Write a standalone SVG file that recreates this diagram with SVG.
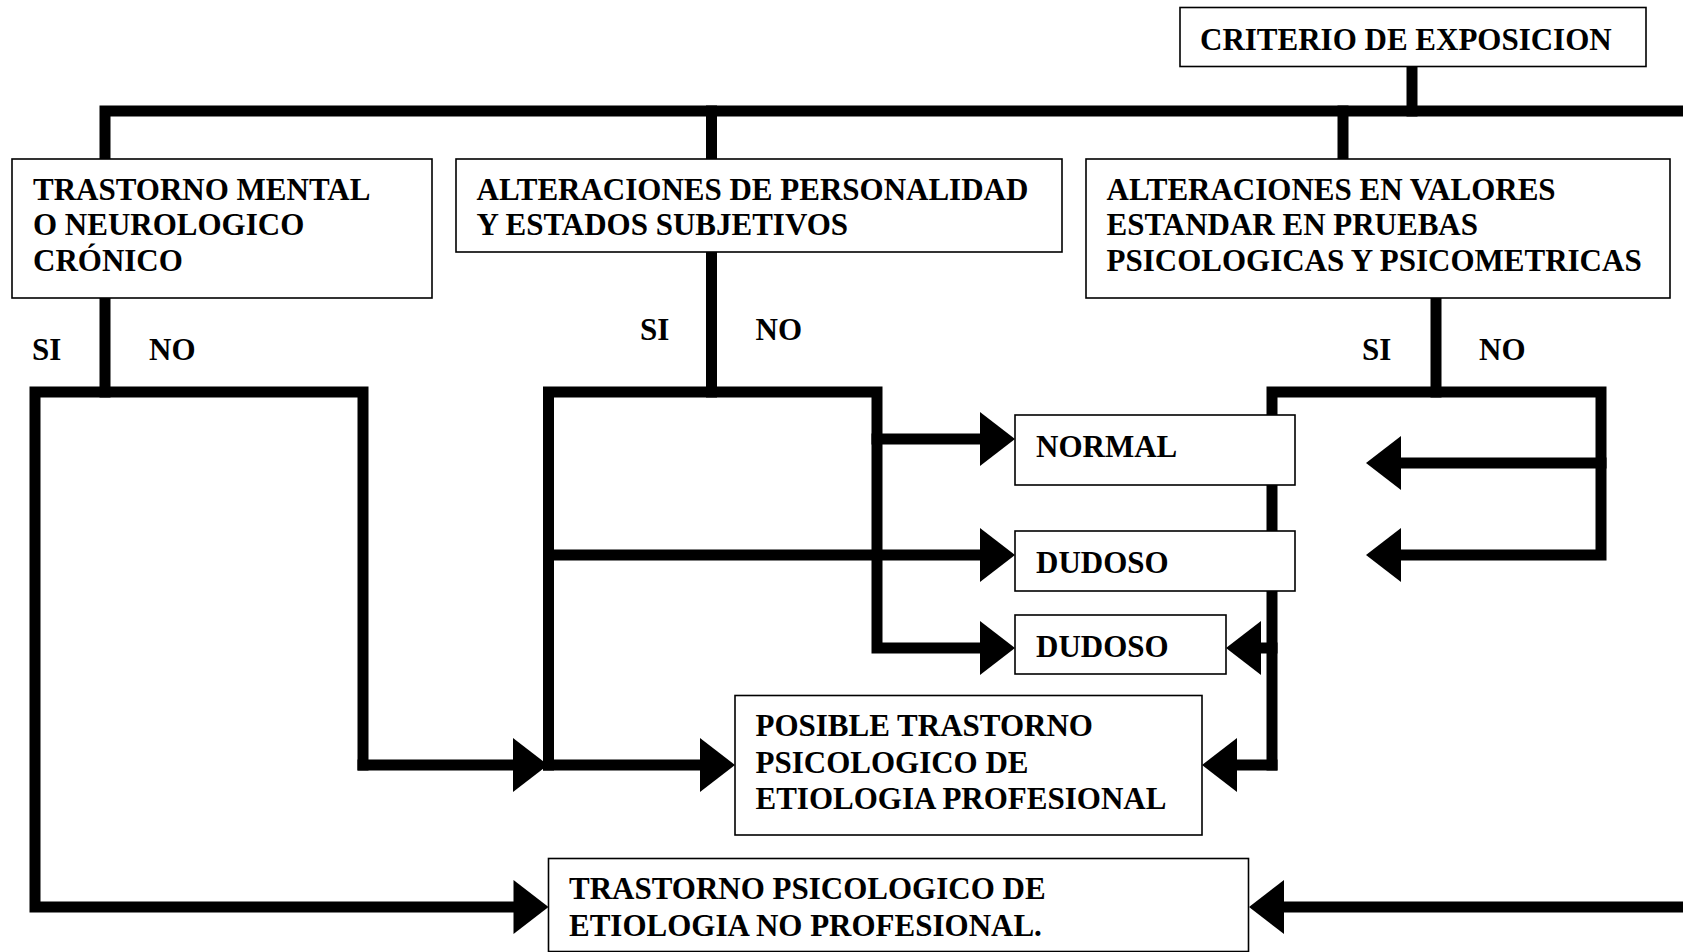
<svg xmlns="http://www.w3.org/2000/svg" width="1683" height="952" viewBox="0 0 1683 952">
<style>
.c{fill:none;stroke:#000;stroke-width:11;stroke-linecap:square;stroke-linejoin:miter}
.a{marker-end:url(#ah)}
.b{fill:#fff;stroke:#000;stroke-width:1.6}
.t{font-family:"Liberation Serif","Times New Roman",serif;font-weight:bold;font-size:31px;fill:#000}
</style>
<defs>
<marker id="ah" markerUnits="userSpaceOnUse" markerWidth="36" markerHeight="56" refX="0" refY="27" orient="auto" overflow="visible">
<path d="M0,0 L35,27 L0,54 z" fill="#000"/>
</marker>
</defs>
<g id="connectors">
<path class="c" d="M1412,66.5 V111"/>
<path class="c" d="M105,159 V111 H1683"/>
<path class="c" d="M711.5,111 V159"/>
<path class="c" d="M1343,111 V159"/>
<path class="c" d="M105,298 V392"/>
<path class="c a" d="M363,765 V392 H35 V907 H513.5"/>
<path class="c a" d="M363,765 H513"/>
<path class="c" d="M711.5,252 V392"/>
<path class="c a" d="M548.5,765 V392 H877 V648 H980"/>
<path class="c a" d="M548.5,555 H980"/>
<path class="c a" d="M548.5,765 H700"/>
<path class="c a" d="M877,439 H980"/>
<path class="c" d="M1436,298 V392"/>
<path class="c a" d="M1272,765 V392 H1601 V555 H1401"/>
<path class="c a" d="M1601,463 H1401"/>
<path class="c a" d="M1272,648 H1261"/>
<path class="c a" d="M1272,765 H1237"/>
<path class="c a" d="M1683,907 H1284"/>
</g>
<g id="criterio">
<rect class="b" x="1180" y="7.5" width="466" height="59"/>
<text class="t" x="1200" y="50">CRITERIO DE EXPOSICION</text>
</g>
<g id="trastorno-mental">
<rect class="b" x="12" y="159" width="420" height="139"/>
<text class="t" x="33" y="199.5">TRASTORNO MENTAL</text>
<text class="t" x="33" y="235">O NEUROLOGICO</text>
<text class="t" x="33" y="270.5">CRÓNICO</text>
</g>
<g id="alteraciones-personalidad">
<rect class="b" x="456" y="159" width="606" height="93"/>
<text class="t" x="476.5" y="199.5">ALTERACIONES DE PERSONALIDAD</text>
<text class="t" x="476.5" y="235">Y ESTADOS SUBJETIVOS</text>
</g>
<g id="alteraciones-valores">
<rect class="b" x="1086" y="159" width="584" height="139"/>
<text class="t" x="1106.5" y="199.5">ALTERACIONES EN VALORES</text>
<text class="t" x="1106.5" y="235">ESTANDAR EN PRUEBAS</text>
<text class="t" x="1106.5" y="270.5">PSICOLOGICAS Y PSICOMETRICAS</text>
</g>
<g id="labels">
<text class="t" x="32" y="360">SI</text>
<text class="t" x="149" y="360">NO</text>
<text class="t" x="640" y="340">SI</text>
<text class="t" x="755.5" y="340">NO</text>
<text class="t" x="1362" y="360">SI</text>
<text class="t" x="1479" y="360">NO</text>
</g>
<g id="normal">
<rect class="b" x="1015" y="415" width="280" height="70"/>
<text class="t" x="1036" y="457">NORMAL</text>
</g>
<g id="dudoso-1">
<rect class="b" x="1015" y="531" width="280" height="60"/>
<text class="t" x="1036" y="573">DUDOSO</text>
</g>
<g id="dudoso-2">
<rect class="b" x="1015" y="615" width="211" height="59"/>
<text class="t" x="1036" y="657">DUDOSO</text>
</g>
<g id="posible">
<rect class="b" x="735" y="695.5" width="467" height="139.5"/>
<text class="t" x="755.5" y="736">POSIBLE TRASTORNO</text>
<text class="t" x="755.5" y="772.5">PSICOLOGICO DE</text>
<text class="t" x="755.5" y="809">ETIOLOGIA PROFESIONAL</text>
</g>
<g id="no-profesional">
<rect class="b" x="548.5" y="858.5" width="700" height="93"/>
<text class="t" x="569" y="899">TRASTORNO PSICOLOGICO DE</text>
<text class="t" x="569" y="935.5">ETIOLOGIA NO PROFESIONAL.</text>
</g>
</svg>
